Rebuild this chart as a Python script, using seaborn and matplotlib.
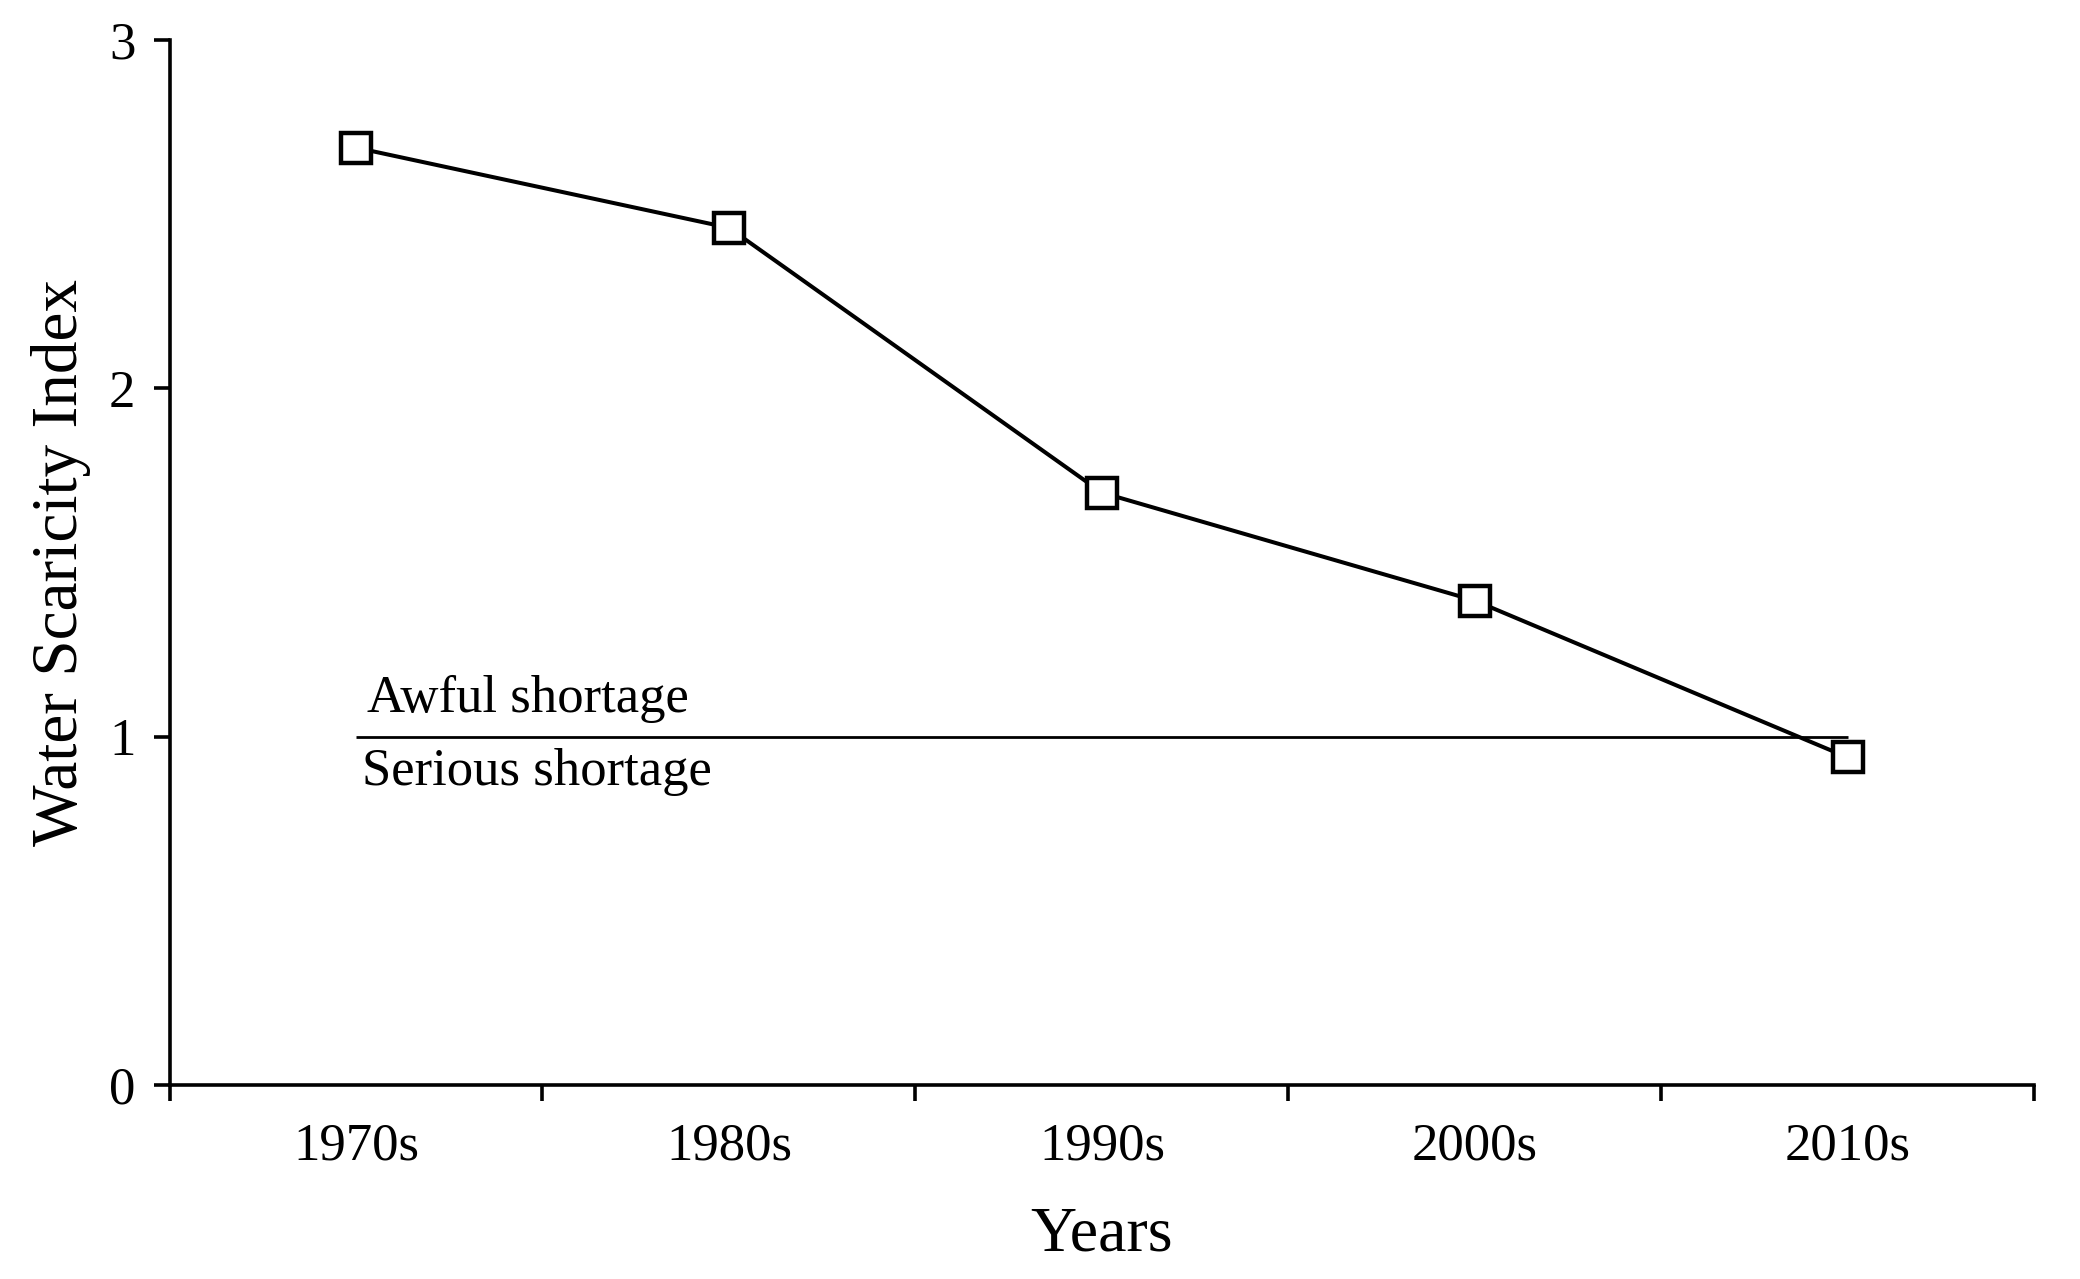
import seaborn as sns
import pandas as pd
import matplotlib.pyplot as plt
from matplotlib.ticker import FixedLocator, NullFormatter


# Данные графика
decades = ['1970s', '1980s', '1990s', '2000s', '2010s']
wsi = [2.69, 2.46, 1.70, 1.39, 0.94]
threshold = 1.0
y_ticks = [0, 1, 2, 3]

df = pd.DataFrame({'pos': range(len(decades)), 'wsi': wsi})

sns.set_style("ticks")
plt.rcParams['font.family'] = ['Liberation Serif', 'DejaVu Serif']
plt.rcParams['text.color'] = 'black'
plt.rcParams['axes.labelcolor'] = 'black'
plt.rcParams['xtick.color'] = 'black'
plt.rcParams['ytick.color'] = 'black'

fig = plt.figure(figsize=(20.8, 12.79), dpi=100)
ax = fig.add_axes([0.0815, 0.1517, 0.8965, 0.8173])

sb = sns.lineplot(data=df, x='pos', y='wsi', ax=ax, color='black', lw=2.9,
                  marker='s', markersize=22, markerfacecolor='white',
                  markeredgecolor='black', markeredgewidth=3.2)

# Граница "Awful / Serious shortage"
ax.hlines(threshold, 0, len(decades) - 1, color='black', lw=2.0, zorder=1)
ax.annotate('Awful shortage', (0, threshold), xytext=(8, 18),
            textcoords='offset points', fontsize=38, va='baseline', ha='left')
ax.annotate('Serious shortage', (0, threshold), xytext=(4, -35),
            textcoords='offset points', fontsize=38, va='baseline', ha='left')

ax.set_xlim(-0.5, len(decades) - 0.5)
ax.set_ylim(0, 3)
ax.set_yticks(y_ticks)
ax.set_yticklabels([str(t) for t in y_ticks])

# Засечки на границах десятилетий, подписи по центру
bounds = [i - 0.5 for i in range(len(decades) + 1)]
ax.xaxis.set_major_locator(FixedLocator(bounds))
ax.xaxis.set_major_formatter(NullFormatter())
ax.xaxis.set_minor_locator(FixedLocator(list(range(len(decades)))))
ax.set_xticklabels(decades, minor=True)

ax.tick_params(axis='x', which='major', direction='out', length=11.5, width=2.6)
ax.tick_params(axis='x', which='minor', length=0, pad=27, labelsize=38)
ax.tick_params(axis='y', direction='out', length=11.5, width=2.6, pad=13, labelsize=38)

for side in ['top', 'right']:
    ax.spines[side].set_visible(False)
for side in ['left', 'bottom']:
    ax.spines[side].set_linewidth(2.6)
    ax.spines[side].set_color('black')

ax.set_xlabel('Years', fontsize=46, labelpad=26)
ax.set_ylabel('Water Scaricity Index', fontsize=47, labelpad=13)

plt.savefig('out.png', dpi=100)
